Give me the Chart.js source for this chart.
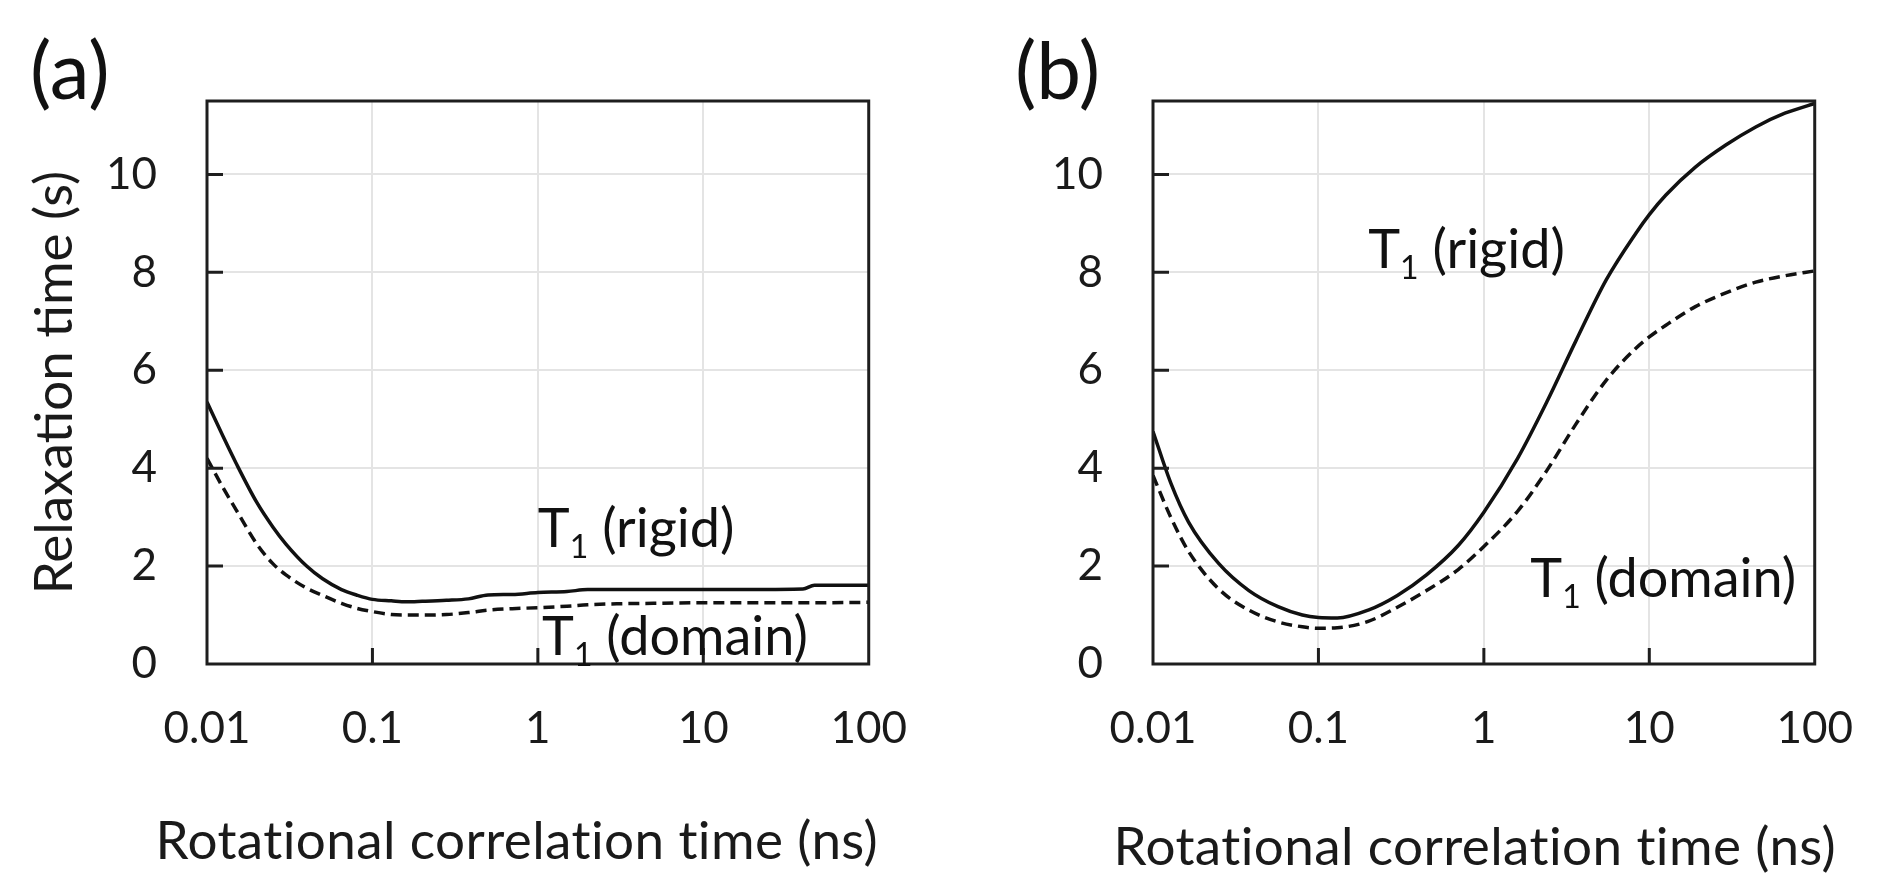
<!DOCTYPE html>
<html>
<head>
<meta charset="utf-8">
<title>Relaxation time vs rotational correlation time</title>
<script src="https://cdn.jsdelivr.net/npm/chart.js@4.4.1/dist/chart.umd.min.js"></script>
<style>
	html, body { margin: 0; padding: 0; background: #fff; }
	body { width: 1891px; height: 891px; position: relative; overflow: hidden; }
	canvas { position: absolute; top: 0; }
	#chart-a { left: 0; }
	#chart-b { left: 945px; }
</style>
</head>
<body>
<canvas id="chart-a" width="945" height="891"></canvas>
<canvas id="chart-b" width="946" height="891"></canvas>
<script>
// ── Data ───────────────────────────────────────────────────────────────────
var xTicks = [ 0.01, 0.1, 1, 10, 100 ];
var xTickLabels = [ '0.01', '0.1', '1', '10', '100' ];
var yTicks = [ 0, 2, 4, 6, 8, 10 ];

// (a)
var tauA    = [ 0.01, 0.0125, 0.015, 0.02, 0.025, 0.03, 0.04, 0.05, 0.065, 0.08, 0.1, 0.13, 0.16, 0.2, 0.28, 0.38, 0.5, 0.7, 1, 1.5, 2, 3, 5, 10, 20, 40, 47, 100 ];
var rigidA  = [ 5.35, 4.65, 4.1, 3.3, 2.8, 2.45, 2.0, 1.74, 1.52, 1.41, 1.32, 1.29, 1.27, 1.28, 1.30, 1.33, 1.41, 1.42, 1.46, 1.48, 1.52, 1.52, 1.52, 1.52, 1.52, 1.53, 1.61, 1.61 ];
var domainA = [ 4.2, 3.6, 3.15, 2.45, 2.05, 1.82, 1.55, 1.40, 1.24, 1.14, 1.07, 1.01, 1.0, 1.0, 1.01, 1.05, 1.10, 1.13, 1.15, 1.18, 1.21, 1.23, 1.24, 1.25, 1.25, 1.25, 1.25, 1.26 ];

// (b)
var tauB    = [ 0.01, 0.0128, 0.0164, 0.025, 0.038, 0.057, 0.08, 0.1, 0.13, 0.2, 0.3, 0.45, 0.7, 1, 1.6, 2.4, 3.6, 5.5, 8.3, 10, 12.6, 19, 29, 44, 66, 100 ];
var rigidB  = [ 4.75, 3.7, 2.9, 2.05, 1.5, 1.17, 1.0, 0.95, 0.94, 1.1, 1.40, 1.82, 2.42, 3.1, 4.2, 5.35, 6.6, 7.85, 8.8, 9.18, 9.58, 10.15, 10.6, 10.97, 11.25, 11.45 ];
var domainB = [ 3.85, 3.0, 2.3, 1.53, 1.1, 0.86, 0.76, 0.73, 0.74, 0.87, 1.16, 1.5, 1.93, 2.4, 3.12, 3.95, 4.9, 5.8, 6.45, 6.68, 6.92, 7.3, 7.58, 7.8, 7.93, 8.03 ];

// Curve labels: name, anchor in data coordinates (left edge, baseline)
var notesA = [
	{ name : 'rigid',  x : 1.0,  y : 2.38 },
	{ name : 'domain', x : 1.06, y : 0.18 },
];
var notesB = [
	{ name : 'rigid',  x : 0.2,  y : 8.09 },
	{ name : 'domain', x : 1.91, y : 1.37 },
];

var xTitle = 'Rotational correlation time (ns)';
var yTitle = 'Relaxation time (s)';

Chart.defaults.font.family = 'Lato, "Open Sans", sans-serif';
Chart.defaults.color = '#1a1a1a';

// Frame, inward tick marks, panel letter, x title and curve labels.
var decorPlugin = {
	id : 'decor',
	afterDraw : function ( chart, args, opts ) {
		var ctx = chart.ctx, a = chart.chartArea;
		var sx = chart.scales.x, sy = chart.scales.y;
		ctx.save();
		ctx.strokeStyle = '#1e1e1e';
		ctx.lineWidth = 3;
		ctx.beginPath();
		xTicks.forEach( function ( v ) {
			if ( v > sx.min && v < sx.max ) {
				var px = sx.getPixelForValue( v );
				ctx.moveTo( px, a.bottom );
				ctx.lineTo( px, a.bottom - 16 );
			}
		} );
		yTicks.forEach( function ( v ) {
			if ( v > sy.min && v < sy.max ) {
				var py = sy.getPixelForValue( v );
				ctx.moveTo( a.left, py );
				ctx.lineTo( a.left + 16, py );
			}
		} );
		ctx.stroke();
		ctx.strokeRect( a.left, a.top, a.right - a.left, a.bottom - a.top );

		ctx.fillStyle = '#111';
		ctx.textBaseline = 'middle';
		ctx.textAlign = 'left';
		ctx.font = '80px Lato';
		ctx.fillText( opts.panel, a.left + opts.panelDx, 73 );

		// x-axis title is wider than the plot, so draw it here unsqueezed
		ctx.fillStyle = '#1a1a1a';
		ctx.textAlign = 'center';
		ctx.textBaseline = 'alphabetic';
		ctx.font = '53px Lato';
		ctx.letterSpacing = '0.4px'; // keeps Lato from joining "ti"
		ctx.fillText( xTitle, ( a.left + a.right ) / 2 + opts.xTitleDx, opts.xTitleBase );
		ctx.letterSpacing = '0px';

		ctx.fillStyle = '#111';
		ctx.textAlign = 'left';
		( opts.notes || [] ).forEach( function ( n ) {
			var px = sx.getPixelForValue( n.x );
			var py = sy.getPixelForValue( n.y );
			ctx.font = '54px Lato';
			ctx.fillText( 'T', px, py );
			px += ctx.measureText( 'T' ).width;
			ctx.font = '32px Lato';
			ctx.fillText( '1', px, py + 11 );
			px += ctx.measureText( '1' ).width;
			ctx.font = '54px Lato';
			ctx.fillText( ' (' + n.name + ')', px, py );
		} );
		ctx.restore();
	},
};

function toPoints( xs, ys ) {
	return xs.map( function ( x, i ) { return { x : x, y : ys[ i ] }; } );
}

function makePanel( id, tau, rigid, domain, cfg ) {
	return new Chart( document.getElementById( id ), {
		type : 'line',
		data : {
			datasets : [
				{
					label       : 'T1 (rigid)',
					data        : toPoints( tau, rigid ),
					borderColor : '#111',
					borderWidth : 3.5,
					pointRadius : 0,
					cubicInterpolationMode : 'monotone',
				},
				{
					label       : 'T1 (domain)',
					data        : toPoints( tau, domain ),
					borderColor : '#111',
					borderWidth : 3.5,
					borderDash  : [ 11, 6 ],
					pointRadius : 0,
					cubicInterpolationMode : 'monotone',
				},
			],
		},
		plugins : [ decorPlugin ],
		options : {
			responsive : false,
			animation  : false,
			layout     : { padding : { left : 0, top : 101, right : cfg.padRight, bottom : 0 } },
			plugins    : {
				legend  : { display : false },
				tooltip : { enabled : false },
				decor   : {
					panel : cfg.panel, panelDx : cfg.panelDx, notes : cfg.notes,
					xTitleDx : cfg.xTitleDx, xTitleBase : cfg.xTitleBase,
				},
			},
			scales : {
				x : {
					type : 'logarithmic',
					min  : 0.01,
					max  : 100,
					afterBuildTicks : function ( s ) {
						s.ticks = xTicks.map( function ( v ) { return { value : v }; } );
					},
					afterFit : function ( s ) { s.height = 227; },
					ticks : {
						autoSkip : false,
						maxRotation : 0,
						padding : 38,
						font : { size : 44 },
						color : '#1a1a1a',
						callback : function ( v ) {
							var i = xTicks.indexOf( v );
							return i >= 0 ? xTickLabels[ i ] : '';
						},
					},
					grid   : { color : '#e4e4e4', lineWidth : 2, drawTicks : false },
					border : { display : false },
					title  : { display : false },
				},
				y : {
					type : 'linear',
					min  : 0,
					max  : 11.5,
					afterBuildTicks : function ( s ) {
						s.ticks = yTicks.map( function ( v ) { return { value : v }; } );
					},
					afterFit : function ( s ) { s.width = cfg.yWidth; },
					ticks : {
						padding : 50,
						font : { size : 44 },
						color : '#1a1a1a',
					},
					grid   : { color : '#e4e4e4', lineWidth : 2, drawTicks : false },
					border : { display : false },
					title  : {
						display : cfg.yTitle,
						text    : yTitle,
						font    : { size : 53 },
						color   : '#1a1a1a',
						padding : { top : 23, bottom : 0 },
					},
				},
			},
		},
	} );
}

makePanel( 'chart-a', tauA, rigidA, domainA, {
	panel : '(a)', panelDx : -177, notes : notesA,
	padRight : 70, yWidth : 207, yTitle : true,
	xTitleDx : -21, xTitleBase : 859,
} );
makePanel( 'chart-b', tauB, rigidB, domainB, {
	panel : '(b)', panelDx : -138, notes : notesB,
	padRight : 72, yWidth : 208, yTitle : false,
	xTitleDx : -9, xTitleBase : 865,
} );
</script>
</body>
</html>
